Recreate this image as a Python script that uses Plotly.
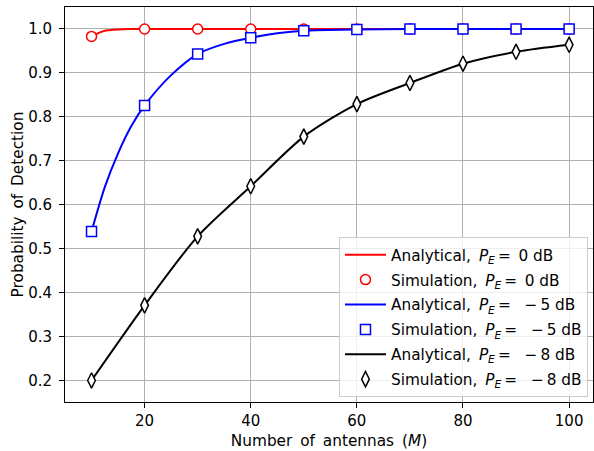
import plotly.graph_objects as go

# Simulation points
M_sim = [10, 20, 30, 40, 50, 60, 70, 80, 90, 100]
sim_0 = [0.983, 1.0, 1.0, 1.0, 1.0, 1.0, 1.0, 1.0, 1.0, 1.0]
sim_5 = [0.539, 0.826, 0.943, 0.980, 0.996, 0.999, 1.0, 1.0, 1.0, 1.0]
sim_8 = [0.200, 0.371, 0.528, 0.642, 0.755, 0.829, 0.877, 0.921, 0.948, 0.964]

# Analytical curves
M_an0 = [10, 11, 12, 13, 14, 15, 17, 20, 30, 40, 50, 60, 70, 80, 90, 100]
an_0 = [0.983, 0.989, 0.994, 0.997, 0.998, 0.999, 1.0, 1.0, 1.0, 1.0, 1.0, 1.0, 1.0, 1.0, 1.0, 1.0]
M_an5 = [10, 12.5, 15, 17.5, 20, 25, 30, 35, 40, 45, 50, 60, 70, 80, 90, 100]
an_5 = [0.539, 0.640, 0.717, 0.779, 0.826, 0.895, 0.943, 0.966, 0.980, 0.990, 0.996, 0.999, 1.0, 1.0, 1.0, 1.0]
M_an8 = [10, 20, 30, 40, 50, 60, 70, 80, 90, 100]
an_8 = [0.200, 0.371, 0.528, 0.642, 0.755, 0.829, 0.877, 0.921, 0.948, 0.964]

x_ticks = [20, 40, 60, 80, 100]
y_ticks = [0.2, 0.3, 0.4, 0.5, 0.6, 0.7, 0.8, 0.9, 1.0]

PE = "<i>P</i><sub><i>E</i></sub>\u2009=\u2002"
PEm = "<i>P</i><sub><i>E</i></sub>\u2009=\u2002\u2009\u2009\u2212\u2009"
labels = [
    "Analytical,\u2009 " + PE + "0 dB",
    "Simulation,\u2009 " + PE + "0 dB",
    "Analytical,\u2009 " + PEm + "5 dB",
    "Simulation,\u2009 " + PEm + "5 dB",
    "Analytical,\u2009 " + PEm + "8 dB",
    "Simulation,\u2009 " + PEm + "8 dB",
]
x_title = "Number\u2009 of\u2009 antennas\u2009 (<i>M</i>)"
y_title = "Probability\u2009 of\u2009 Detection"

fig = go.Figure()
series = [
    (M_an0, an_0, M_sim, sim_0, "red", "circle"),
    (M_an5, an_5, M_sim, sim_5, "blue", "square"),
    (M_an8, an_8, M_sim, sim_8, "black", "diamond-tall"),
]
for i, (xa, ya, xs, ys, col, sym) in enumerate(series):
    fig.add_trace(go.Scatter(x=xa, y=ya, mode="lines", name=labels[2 * i],
                             legendgroup="a%d" % i,
                             line=dict(color=col, width=2, shape="spline", smoothing=0.8)))
    fig.add_trace(go.Scatter(x=xs, y=ys, mode="markers", name=labels[2 * i + 1],
                             legendgroup="s%d" % i,
                             marker=dict(symbol=sym, size=10 if sym != "diamond-tall" else 11,
                                         color="white", line=dict(color=col, width=1.5))))

font = "DejaVu Sans, sans-serif"
fig.update_layout(
    width=594, height=451,
    margin=dict(l=65, r=1, t=7, b=49),
    paper_bgcolor="white", plot_bgcolor="white",
    font=dict(family=font, size=15, color="black"),
    legend=dict(x=0.9905, y=0.012, xanchor="right", yanchor="bottom",
                bgcolor="rgba(255,255,255,0.8)", bordercolor="#cccccc", borderwidth=1,
                font=dict(size=15.3), tracegroupgap=2, itemwidth=41),
    showlegend=True,
)
fig.update_xaxes(range=[5.0, 104.5], tickvals=x_ticks, showgrid=True, gridcolor="#b0b0b0",
                 gridwidth=1, showline=True, linecolor="black", linewidth=1, mirror=True,
                 ticks="outside", ticklen=5, tickcolor="black", zeroline=False,
                 tickfont=dict(size=15), automargin=False,
                 title=dict(text=x_title, font=dict(size=15.3), standoff=6))
fig.update_yaxes(range=[0.151, 1.05], tickvals=y_ticks, tickformat=".1f", showgrid=True,
                 gridcolor="#b0b0b0", gridwidth=1, showline=True, linecolor="black", linewidth=1,
                 mirror=True, ticks="outside", ticklen=5, tickcolor="black", zeroline=False,
                 tickfont=dict(size=15), automargin=False, ticklabelstandoff=4,
                 title=dict(text=y_title, font=dict(size=15.3), standoff=0))

fig.write_html("out.html", config={"displayModeBar": False},
               post_script="document.body.style.margin='0';")
